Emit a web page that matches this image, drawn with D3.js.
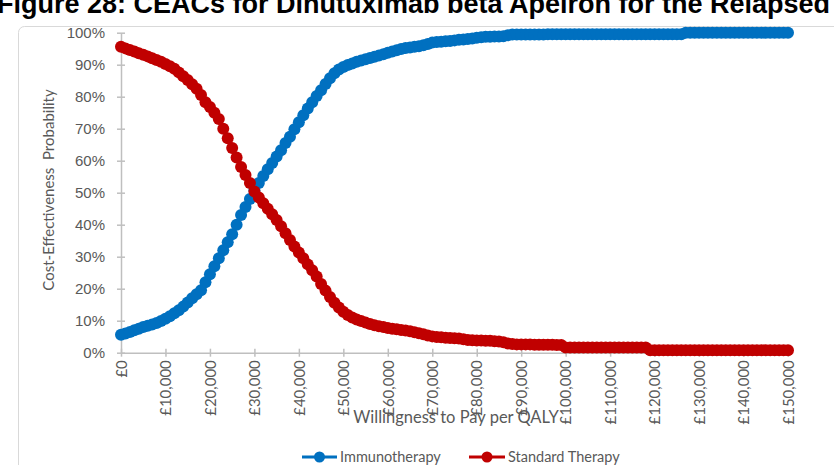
<!DOCTYPE html>
<html>
<head>
<meta charset="utf-8">
<script src="https://cdn.jsdelivr.net/npm/d3@7"></script>
<style>
  html, body { margin: 0; padding: 0; background: #ffffff; }
  svg { display: block; }
</style>
</head>
<body>
<script>
// ---------------- DATA ----------------
const titleText = "Figure 28: CEACs for Dinutuximab beta Apeiron for the Relapsed";
const seriesNames = ["Immunotherapy", "Standard Therapy"];
const wtpStep = 1000;            // willingness-to-pay grid step (£)
const xTickValues = [0,10000,20000,30000,40000,50000,60000,70000,80000,90000,100000,110000,120000,130000,140000,150000];
const xTickLabels = ["£0","£10,000","£20,000","£30,000","£40,000","£50,000","£60,000","£70,000","£80,000","£90,000","£100,000","£110,000","£120,000","£130,000","£140,000","£150,000"];
const yTickValues = [0,10,20,30,40,50,60,70,80,90,100];
const yTickLabels = ["0%","10%","20%","30%","40%","50%","60%","70%","80%","90%","100%"];
const xTitle = "Willingness to Pay per QALY";
const yTitle = "Cost-Effectiveness\u00A0 Probability";

// probability (%) cost-effective, one value per £1,000 from £0 to £150,000
const immunotherapy = [
  5.6, 6.0, 6.5, 7.0, 7.5, 8.0, 8.4, 8.8, 9.3, 9.9,            // 0-9k
  10.6, 11.4, 12.3, 13.3, 14.4, 15.7, 17.0, 18.3, 19.5, 22.0,  // 10-19k
  24.5, 27.0, 29.5, 32.0, 34.5, 37.0, 40.0, 43.0, 45.5, 48.0,  // 20-29k
  50.8, 53.0, 55.2, 57.3, 59.3, 61.3, 63.3, 65.5, 67.5, 69.8,  // 30-39k
  72.0, 74.2, 76.3, 78.3, 80.2, 82.0, 84.0, 85.8, 87.3, 88.5,  // 40-49k
  89.3, 89.9, 90.4, 90.9, 91.3, 91.7, 92.1, 92.5, 92.9, 93.3,  // 50-59k
  93.7, 94.1, 94.5, 94.9, 95.2, 95.4, 95.6, 95.8, 96.1, 96.5,  // 60-69k
  96.9, 97.1, 97.2, 97.3, 97.4, 97.6, 97.8, 97.9, 98.0, 98.2,  // 70-79k
  98.4, 98.6, 98.7, 98.7, 98.8, 98.8, 98.9, 99.2, 99.4, 99.4,  // 80-89k
  99.4, 99.4, 99.4, 99.4, 99.4, 99.4, 99.5, 99.5, 99.5, 99.5,  // 90-99k
  99.5, 99.5, 99.5, 99.5, 99.5, 99.5, 99.5, 99.5, 99.5, 99.5,  // 100-109k
  99.5, 99.5, 99.5, 99.5, 99.5, 99.5, 99.5, 99.5, 99.5, 99.5,  // 110-119k
  99.5, 99.5, 99.5, 99.5, 99.5, 99.5, 99.5, 100, 100, 100,     // 120-129k
  100, 100, 100, 100, 100, 100, 100, 100, 100, 100,            // 130-139k
  100, 100, 100, 100, 100, 100, 100, 100, 100, 100,            // 140-149k
  100                                                          // 150k
];
const standardTherapy = [
  95.6, 95.1, 94.6, 94.1, 93.6, 93.1, 92.6, 92.0, 91.5, 90.9,  // 0-9k
  90.2, 89.5, 88.7, 87.6, 86.4, 85.2, 83.9, 82.5, 80.5, 78.3,  // 10-19k
  76.8, 75.0, 73.0, 70.0, 67.0, 64.0, 61.0, 58.0, 55.5, 53.0,  // 20-29k
  50.4, 48.5, 46.7, 45.0, 43.3, 41.5, 39.5, 37.3, 35.2, 33.2,  // 30-39k
  31.3, 29.5, 27.6, 25.8, 23.8, 21.5, 19.4, 17.4, 15.6, 14.1,  // 40-49k
  12.8, 11.8, 11.0, 10.4, 9.9, 9.4, 9.0, 8.6, 8.3, 8.0,        // 50-59k
  7.7, 7.5, 7.3, 7.1, 6.9, 6.7, 6.4, 6.1, 5.8, 5.4,            // 60-69k
  5.1, 4.9, 4.8, 4.7, 4.6, 4.5, 4.4, 4.2, 4.0, 3.9,            // 70-79k
  3.8, 3.8, 3.7, 3.7, 3.6, 3.5, 3.3, 2.9, 2.7, 2.6,            // 80-89k
  2.6, 2.6, 2.6, 2.5, 2.5, 2.5, 2.5, 2.5, 2.4, 2.4,            // 90-99k
  1.6, 1.6, 1.6, 1.6, 1.6, 1.6, 1.6, 1.6, 1.6, 1.6,            // 100-109k
  1.6, 1.6, 1.6, 1.6, 1.6, 1.6, 1.6, 1.6, 1.6, 0.8,            // 110-119k
  0.8, 0.8, 0.8, 0.8, 0.8, 0.8, 0.8, 0.8, 0.8, 0.8,            // 120-129k
  0.8, 0.8, 0.8, 0.8, 0.8, 0.8, 0.8, 0.8, 0.8, 0.8,            // 130-139k
  0.8, 0.8, 0.8, 0.8, 0.8, 0.8, 0.8, 0.8, 0.8, 0.8,            // 140-149k
  0.8                                                          // 150k
];
const seriesColors = ["#0070C0", "#C00000"];

// ---------------- CHART ----------------
const W = 834, H = 465;
const textGray = "#595959";
const axisGray = "#BFBFBF";
const sansLabel = "Lato, 'Open Sans', sans-serif";
const sansNum = "'Liberation Sans', Arial, sans-serif";

const svg = d3.select("body").append("svg")
  .attr("width", W).attr("height", H);

// title (cropped at top of image, as in the source picture)
svg.append("text")
  .attr("x", -3).attr("y", 13)
  .attr("font-family", sansNum)
  .attr("font-weight", "bold")
  .attr("font-size", 27)
  .attr("fill", "#000")
  .text(titleText);

// chart area border
svg.append("rect")
  .attr("x", 18.5).attr("y", 26.5)
  .attr("width", 900).attr("height", 600)
  .attr("rx", 6)
  .attr("fill", "none")
  .attr("stroke", "#D9D9D9")
  .attr("stroke-width", 1);

const x = d3.scaleLinear().domain([0, 150000]).range([121, 788]);
const y = d3.scaleLinear().domain([0, 100]).range([352.7, 32.7]);

// Y axis
const yAxis = svg.append("g")
  .attr("transform", `translate(${x(0)},0)`)
  .call(d3.axisLeft(y).tickValues(yTickValues)
        .tickFormat((d, i) => yTickLabels[i]).tickSize(4).tickSizeOuter(0));
yAxis.select(".domain").attr("stroke", axisGray).attr("stroke-width", 1.5);
yAxis.selectAll(".tick line").attr("x1", -4).attr("x2", 4)
  .attr("stroke", axisGray).attr("stroke-width", 1.5);
yAxis.selectAll(".tick text")
  .attr("x", -16)
  .attr("font-family", sansNum)
  .attr("font-size", 15)
  .attr("fill", textGray);

// X axis
const xAxis = svg.append("g")
  .attr("transform", `translate(0,${y(0)})`)
  .call(d3.axisBottom(x).tickValues(xTickValues)
        .tickFormat((d, i) => xTickLabels[i]).tickSize(4).tickSizeOuter(0));
xAxis.select(".domain").attr("stroke", axisGray).attr("stroke-width", 1.5);
xAxis.selectAll(".tick line").attr("y1", -4).attr("y2", 4)
  .attr("stroke", axisGray).attr("stroke-width", 1.5);
xAxis.selectAll(".tick text")
  .attr("transform", "rotate(-90)")
  .attr("text-anchor", "end")
  .attr("x", -7.5).attr("y", 0).attr("dy", "0.35em")
  .attr("font-family", sansLabel)
  .attr("font-size", 15)
  .attr("fill", textGray);

// axis titles
svg.append("text")
  .attr("transform", "translate(54,190) rotate(-90)")
  .attr("text-anchor", "middle")
  .attr("font-family", sansLabel)
  .attr("font-size", 15)
  .attr("fill", textGray)
  .text(yTitle);

svg.append("text")
  .attr("x", 456).attr("y", 423)
  .attr("text-anchor", "middle")
  .attr("font-family", sansLabel)
  .attr("font-size", 16.5)
  .attr("fill", textGray)
  .text(xTitle);

// series
const seriesData = [immunotherapy, standardTherapy];
const line = d3.line().x((d, i) => x(i * wtpStep)).y(d => y(d));
seriesData.forEach((vals, s) => {
  const g = svg.append("g");
  g.append("path").datum(vals)
    .attr("d", line)
    .attr("fill", "none")
    .attr("stroke", seriesColors[s])
    .attr("stroke-width", 3);
  g.selectAll("circle").data(vals).join("circle")
    .attr("cx", (d, i) => x(i * wtpStep))
    .attr("cy", d => y(d))
    .attr("r", 6)
    .attr("fill", seriesColors[s]);
});

// legend
const legendItems = [
  { x1: 302, x2: 337, tx: 340 },
  { x1: 469, x2: 505, tx: 508 }
];
legendItems.forEach((li, s) => {
  const g = svg.append("g");
  g.append("line")
    .attr("x1", li.x1).attr("x2", li.x2)
    .attr("y1", 457).attr("y2", 457)
    .attr("stroke", seriesColors[s]).attr("stroke-width", 3);
  g.append("circle")
    .attr("cx", (li.x1 + li.x2) / 2).attr("cy", 457).attr("r", 5.5)
    .attr("fill", seriesColors[s]);
  g.append("text")
    .attr("x", li.tx).attr("y", 462)
    .attr("font-family", sansLabel)
    .attr("font-size", 14.5)
    .attr("fill", textGray)
    .text(seriesNames[s]);
});
</script>
</body>
</html>
